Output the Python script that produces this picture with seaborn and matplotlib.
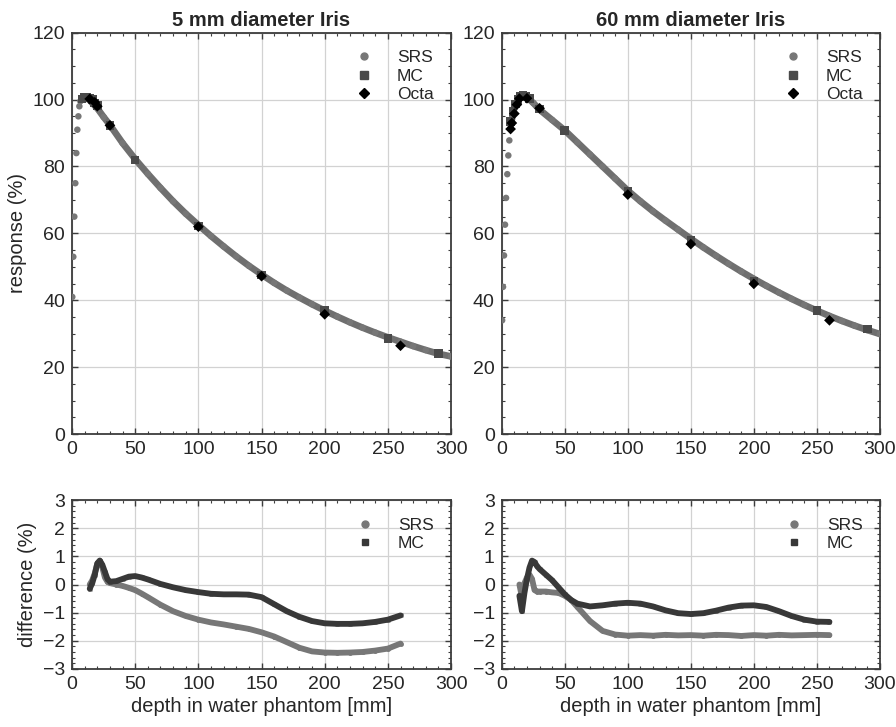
import numpy as np
import pandas as pd
import seaborn as sns
import matplotlib.pyplot as plt
from matplotlib.lines import Line2D
from matplotlib.ticker import MultipleLocator

# ------------------------------------------------------------
# Data
# ------------------------------------------------------------
# 5 mm iris, depth dose
srs5_depth = [0.2, 1.0, 1.8, 2.6, 3.4, 4.2, 5.0, 5.8, 6.6, 8, 10, 12, 14, 16, 18, 20, 25, 30, 40, 50,
              60, 70, 80, 90, 100, 110, 120, 130, 140, 150, 160, 170, 180, 190, 200, 210, 220, 230,
              240, 250, 260, 270, 280, 290, 300]
srs5_resp = [41, 53, 65, 75, 84, 91, 95, 98, 99.5, 100.3, 100.5, 100.3, 99.8, 99.0, 98.2, 97.4, 94.8, 92.4,
             87.0, 82.2, 77.8, 73.6, 69.6, 65.9, 62.5, 59.2, 56.1, 53.1, 50.3, 47.7, 45.2, 42.9, 40.8,
             38.8, 36.9, 35.1, 33.4, 31.8, 30.3, 28.9, 27.6, 26.3, 25.1, 24.0, 23.2]
mc5_depth = [8, 10, 12, 14, 16, 18, 20, 30, 50, 100, 150, 200, 250, 290]
mc5_resp = [100.2, 100.7, 100.8, 100.5, 100.0, 99.0, 98.3, 92.2, 82.0, 62.2, 47.6, 37.0, 28.6, 24.0]
octa5_depth = [14, 18, 20, 30, 100, 150, 200, 260]
octa5_resp = [100.2, 99.2, 98.0, 92.3, 62.0, 47.2, 35.8, 26.4]

# 60 mm iris, depth dose
srs60_depth = [0.3, 1.0, 1.8, 2.6, 3.4, 4.4, 5.2, 6.0, 7.0, 8, 9, 10, 12, 14, 16, 18, 20, 22, 25, 30,
               40, 50, 60, 70, 80, 90, 100, 110, 120, 130, 140, 150, 160, 170, 180, 190, 200, 210,
               220, 230, 240, 250, 260, 270, 280, 290, 300]
srs60_resp = [34, 44, 53.4, 62.6, 70.6, 77.7, 83.3, 87.8, 91.5, 94.0, 96.0, 97.5, 99.2, 100.3, 100.8,
              100.8, 100.5, 100.0, 99.0, 97.0, 93.9, 90.8, 87.2, 83.6, 80.0, 76.4, 72.8, 69.6, 66.6,
              63.8, 61.1, 58.4, 55.8, 53.3, 50.9, 48.6, 46.4, 44.3, 42.3, 40.4, 38.6, 36.9, 35.3,
              33.8, 32.4, 31.1, 29.9]
mc60_depth = [7, 9, 11, 13, 15, 17, 19, 22, 30, 50, 100, 150, 200, 250, 290]
mc60_resp = [93.5, 96.5, 98.7, 100.0, 101.0, 101.3, 101.0, 100.3, 97.2, 90.8, 72.5, 57.8, 45.7, 37.0, 31.4]
octa60_depth = [7, 8, 10, 12, 14, 20, 30, 100, 150, 200, 260]
octa60_resp = [91.2, 93.0, 95.8, 98.5, 100.3, 100.4, 97.4, 71.6, 56.8, 44.9, 34.0]

# differences, 5 mm iris
diff_depth = [14, 16, 18, 20, 22, 24, 26, 28, 30, 35, 40, 45, 50, 55, 60, 70, 80, 90, 100, 110, 120,
              130, 140, 150, 160, 170, 180, 190, 200, 210, 220, 230, 240, 250, 260]
srs5_diff = [0.0, 0.15, 0.4, 0.75, 0.85, 0.6, 0.25, 0.1, 0.05, 0.0, -0.05, -0.12, -0.2, -0.32, -0.45,
             -0.72, -0.95, -1.12, -1.25, -1.35, -1.42, -1.5, -1.58, -1.7, -1.85, -2.05, -2.25, -2.38,
             -2.42, -2.43, -2.42, -2.4, -2.35, -2.28, -2.1]
mc5_diff = [-0.15, 0.05, 0.35, 0.75, 0.85, 0.7, 0.45, 0.2, 0.1, 0.12, 0.2, 0.28, 0.3, 0.25, 0.18,
            0.02, -0.1, -0.2, -0.27, -0.33, -0.35, -0.35, -0.36, -0.45, -0.7, -0.95, -1.15, -1.3,
            -1.38, -1.4, -1.4, -1.38, -1.33, -1.25, -1.1]

# differences, 60 mm iris
srs60_diff = [0.0, -0.45, 0.05, 0.25, 0.35, 0.2, -0.2, -0.25, -0.25, -0.25, -0.28, -0.3, -0.4, -0.55,
              -0.8, -1.3, -1.65, -1.78, -1.82, -1.8, -1.82, -1.79, -1.81, -1.8, -1.82, -1.79, -1.8,
              -1.83, -1.8, -1.82, -1.79, -1.81, -1.8, -1.79, -1.8]
mc60_diff = [-0.4, -0.95, -0.3, 0.2, 0.6, 0.85, 0.8, 0.65, 0.55, 0.35, 0.15, -0.1, -0.35, -0.55, -0.68,
             -0.78, -0.74, -0.68, -0.65, -0.68, -0.78, -0.92, -1.02, -1.05, -1.02, -0.93, -0.82, -0.75,
             -0.74, -0.8, -0.95, -1.12, -1.25, -1.32, -1.33]

titles = ["5 mm diameter Iris", "60 mm diameter Iris"]

# ------------------------------------------------------------
# Style
# ------------------------------------------------------------
sns.set_style("ticks")
plt.rcParams["font.family"] = ["Liberation Sans", "DejaVu Sans"]

c_srs = "#777777"
c_line = "#6f6f6f"
c_mc = "#4a4a4a"
c_mc_diff = "#383838"
c_octa = "#000000"
c_spine = "#3c3c3c"

fig = plt.figure(figsize=(8.96, 7.27), dpi=100)
ax_top = [fig.add_axes([0.0804, 0.403, 0.423, 0.552]), fig.add_axes([0.560, 0.403, 0.422, 0.552])]
ax_bot = [fig.add_axes([0.0804, 0.080, 0.423, 0.232]), fig.add_axes([0.560, 0.080, 0.422, 0.232])]


def style_axes(ax, ymin, ymax, ymaj, ymin_step):
    ax.set_xlim(0, 300)
    ax.set_ylim(ymin, ymax)
    ax.xaxis.set_major_locator(MultipleLocator(50))
    ax.xaxis.set_minor_locator(MultipleLocator(10))
    ax.yaxis.set_major_locator(MultipleLocator(ymaj))
    ax.yaxis.set_minor_locator(MultipleLocator(ymin_step))
    ax.grid(True, which="major", color="#d2d2d2", lw=0.9)
    ax.set_axisbelow(True)
    ax.tick_params(which="both", direction="in", top=True, right=True, color=c_spine)
    ax.tick_params(which="major", length=4, width=1, labelsize=14, pad=5)
    ax.tick_params(which="minor", length=2.5, width=0.8)
    for s in ax.spines.values():
        s.set_color(c_spine)
        s.set_linewidth(1.3)


top_sets = [
    (srs5_depth, srs5_resp, mc5_depth, mc5_resp, octa5_depth, octa5_resp),
    (srs60_depth, srs60_resp, mc60_depth, mc60_resp, octa60_depth, octa60_resp),
]

for ax, (sd, sr, md, mr, od, orr), title in zip(ax_top, top_sets, titles):
    srs = pd.DataFrame({"depth": sd, "resp": sr})
    peak = srs[srs["depth"] >= 8]
    sns.lineplot(data=peak, x="depth", y="resp", ax=ax, color=c_line, lw=4.8, zorder=3)
    sns.scatterplot(data=srs, x="depth", y="resp", ax=ax, color=c_srs, s=22, edgecolor="none", zorder=3)
    sns.scatterplot(x=md, y=mr, ax=ax, color=c_mc, marker="s", s=38, edgecolor="none", zorder=4)
    sns.scatterplot(x=od, y=orr, ax=ax, color=c_octa, marker="D", s=30, edgecolor="none", zorder=5)
    style_axes(ax, 0, 120, 20, 5)
    ax.set_title(title, fontsize=14.5, fontweight="bold", pad=5)
    ax.set_xlabel("")
    ax.set_ylabel("")
    handles = [
        Line2D([], [], ls="none", marker="o", color=c_srs, ms=5),
        Line2D([], [], ls="none", marker="s", color=c_mc, ms=6),
        Line2D([], [], ls="none", marker="D", color=c_octa, ms=5.5),
    ]
    ax.legend(handles, ["SRS", "MC", "Octa"], loc="upper right", frameon=False, fontsize=12.5,
              handletextpad=0.9, labelspacing=0.2, borderaxespad=0.6)

ax_top[0].set_ylabel("response (%)", fontsize=14.5)

bot_sets = [(srs5_diff, mc5_diff), (srs60_diff, mc60_diff)]
for ax, (sdiff, mdiff) in zip(ax_bot, bot_sets):
    sns.lineplot(x=diff_depth, y=sdiff, ax=ax, color=c_srs, lw=4.2, marker="o", ms=3.5,
                 markeredgecolor="none", zorder=3)
    sns.lineplot(x=diff_depth, y=mdiff, ax=ax, color=c_mc_diff, lw=4.2, marker="s", ms=3.5,
                 markeredgecolor="none", zorder=4)
    style_axes(ax, -3, 3, 1, 0.2)
    ax.set_xlabel("depth in water phantom [mm]", fontsize=14.5, labelpad=3)
    ax.set_ylabel("")
    handles = [
        Line2D([], [], ls="none", marker="o", color=c_srs, ms=5),
        Line2D([], [], ls="none", marker="s", color=c_mc_diff, ms=4),
    ]
    ax.legend(handles, ["SRS", "MC"], loc="upper right", frameon=False, fontsize=12.5,
              handletextpad=0.9, labelspacing=0.2, borderaxespad=0.6)

ax_bot[0].set_ylabel("difference (%)", fontsize=14.5)

fig.savefig("out.png", dpi=100)
